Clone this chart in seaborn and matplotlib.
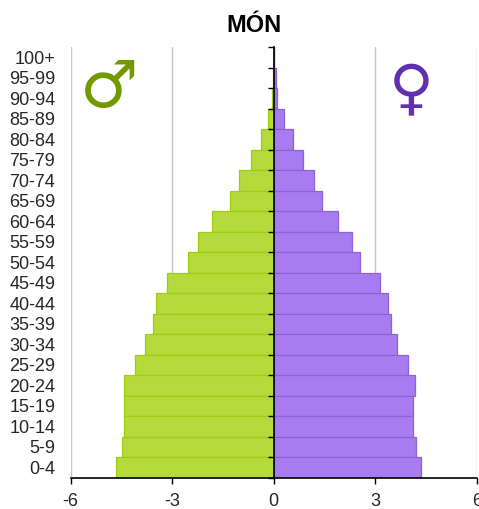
import numpy as np
import matplotlib
matplotlib.use('Agg')
import matplotlib.pyplot as plt
import seaborn as sns

# Age groups, top to bottom
ages = ['100+', '95-99', '90-94', '85-89', '80-84', '75-79', '70-74', '65-69', '60-64', '55-59', '50-54',
        '45-49', '40-44', '35-39', '30-34', '25-29', '20-24', '15-19', '10-14', '5-9', '0-4']
men = [0.0, 0.01, 0.05, 0.16, 0.38, 0.66, 1.02, 1.28, 1.81, 2.23, 2.52,
       3.14, 3.47, 3.55, 3.79, 4.11, 4.41, 4.41, 4.41, 4.49, 4.66]
women = [0.0, 0.06, 0.11, 0.30, 0.57, 0.86, 1.18, 1.42, 1.90, 2.32, 2.55,
         3.14, 3.38, 3.47, 3.64, 3.97, 4.16, 4.11, 4.12, 4.20, 4.34]
x_ticks = [-6, -3, 0, 3, 6]

sns.set_style('white')
plt.rcParams['font.family'] = ['Liberation Sans', 'DejaVu Sans']

fig = plt.figure(figsize=(4.79, 5.09), dpi=100)
ax = fig.add_axes([70.5 / 479, 1 - 477.5 / 509, 406.5 / 479, 430.5 / 509])

ax.grid(True, axis='x', color='#c8c8c8', lw=1)
ax.set_axisbelow(True)

sns.barplot(x=-np.array(men), y=ages, order=ages, orient='h', width=1, color='#b4da3c',
            saturation=1, edgecolor='#9fcb12', linewidth=0.9, ax=ax)
sns.barplot(x=women, y=ages, order=ages, orient='h', width=1, color='#a97bf0',
            saturation=1, edgecolor='#8c62d6', linewidth=0.9, ax=ax)

ax.set_xlim(-6, 6)
ax.set_ylim(20.5, -0.5)
ax.set_xticks(x_ticks)
ax.set_xticklabels([str(t) for t in x_ticks])
ax.tick_params(axis='x', length=4, width=1, color='black', labelsize=13, pad=7, bottom=True)
ax.tick_params(axis='y', length=0, labelsize=13, pad=11)

for side in ['top', 'right', 'left']:
    ax.spines[side].set_visible(False)
ax.spines['bottom'].set_color('black')
ax.spines['bottom'].set_linewidth(1.2)

# center axis with ticks between the age groups
center = ax.secondary_yaxis(0.5)
center.set_alignment('left')
center.set_zorder(10)
center.set_yticks(np.arange(-0.5, len(ages)))
center.set_yticklabels([])
center.tick_params(length=4, width=1, color='black')
center.spines['left'].set_color('black')
center.spines['left'].set_linewidth(1.2)
for side in ['top', 'right', 'bottom']:
    center.spines[side].set_visible(False)

ax.set_xlabel('')
ax.set_ylabel('')

fig.text(254 / 479, 1 - 25 / 509, 'MÓN', ha='center', va='center', fontsize=17, fontweight='bold', color='black')
fig.text(109 / 479, 1 - 89 / 509, '\u2642', ha='center', va='center', fontsize=47, fontweight='bold',
         color='#739900', family='DejaVu Sans')
fig.text(411 / 479, 1 - 92 / 509, '\u2640', ha='center', va='center', fontsize=44, fontweight='bold',
         color='#6030b0', family='DejaVu Sans')

plt.savefig('out.png', dpi=100)
plt.close()
